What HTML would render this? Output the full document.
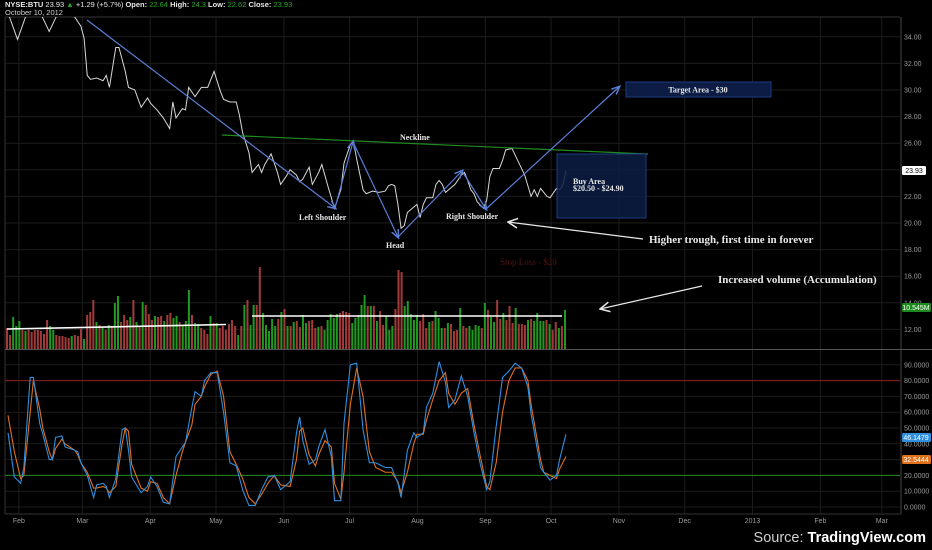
<!DOCTYPE html>
<html><head><meta charset="utf-8">
<style>
html,body{margin:0;padding:0;background:#000;}
body{width:932px;height:550px;overflow:hidden;position:relative;font-family:"Liberation Sans",sans-serif;}
svg{position:absolute;left:0;top:0;}
</style></head>
<body>
<svg id="c" width="932" height="550" viewBox="0 0 932 550"></svg>
<script>
// ---- data ----
const priceIdx = [0,3,6,10,13,16,21,23,24,25,26,28,30,31,32,34,35,37,38,40,42,44,45,47,49,51,52,53,55,56,57,59,61,63,65,67,68,70,72,73,74,76,77,79,80,81,83,85,86,88,89,91,92,93,95,96,98,99,101,103,105,106,108,109,110,112,113,115,117,119,120,121,122,123,124,125,126,127,129,130,131,132,134,135,136,137,138,139,141,143,144,145,146,147,148,150,151,152,153,155,156,157,159,160,162,163,165,166,167,168,170,171,173,174,175,176];
const priceVal = [35.8,33.8,35.8,35.9,34.4,35.9,35.5,34.8,33.9,31.1,30.8,30.9,30.7,31.1,30.2,33.2,33.2,31.4,30.2,30.0,28.7,29.4,29.0,28.5,27.9,27.1,29.1,27.9,28.6,28.5,30.2,29.5,30.2,30.2,31.4,29.9,29.3,29.1,29.1,28.1,26.8,25.3,23.8,24.4,23.8,24.4,25.2,23.8,22.9,23.6,24.0,23.6,23.1,23.3,24.2,22.9,23.8,24.4,22.7,21.1,22.5,24.5,25.9,26.1,24.8,22.5,22.2,22.4,22.3,22.4,22.8,22.9,22.8,21.4,19.6,19.8,20.8,21.0,21.4,20.4,21.4,21.9,21.9,22.9,23.2,22.9,22.3,22.5,22.9,23.6,23.8,23.2,22.5,22.2,21.6,21.1,21.7,23.5,24.1,24.1,24.7,25.5,25.6,25.1,24.1,23.6,22.0,22.5,22.0,22.6,22.0,21.9,22.6,22.5,22.8,23.9];
const volM = [5.25,3.5,8,5.75,7,4.75,4.5,4.75,4.25,4.75,4.75,4.5,3.75,7.25,5.75,4.75,3.5,3.25,3.25,3,2.75,3.25,3.5,3.25,5,2.5,8.5,9.25,12.25,6.75,6,5.25,4.75,6,5.75,11.5,13.25,6.75,8.5,7.25,8,12.25,6.75,5.75,11.75,11,8.75,7.25,8.25,8,8.25,7,8.5,9,7.75,8.25,6.75,5.75,7,14.75,8.5,6.5,6.25,5.25,4.75,3.75,8.25,6.5,6.5,5.25,5.75,4.75,6.25,7.25,5.75,3.5,5.75,11,12.25,6,11,11,20.5,9,6,4.5,7.5,5.75,7.5,9.25,10,5.75,
5.75,6.75,7,5.5,8.5,6.5,7,7.25,5.25,5.5,5.75,4.75,7.25,8.75,7.75,8.75,9,9.5,9.25,9,6.5,7.75,8.5,11,13.5,10.75,10.75,10.75,7,9.5,6,8.25,4.75,5.75,10,19.75,19.25,10.75,12,8.75,7.25,8.5,7,8.75,5.25,6.75,7,9.5,7.75,5.25,5.25,6.5,6.25,4.5,4.75,10.25,5.75,5.25,5.75,4.75,6,5.75,5.25,11.5,9.75,8,6.75,12.25,7.5,9,7.25,10.75,6.5,10.25,6.25,6.25,6,7.25,7.5,7,9,7,7,7.25,6.25,4.75,6.75,5.25,5.75,9.75];
const volDir = "drgggrgrrrrrrrggrrrrrgrrrgrrrgrgrgrggrrrgrgrgrrrgrrgrrggrgggrggrrrgrgrrrrrrgrgrggrrggg"+"ggrgrgrgrrggrrrgrgggggrrrrgggggrgrgrrgggrrrgggggrrrgrgggrgrrrgrrggggrgrggrrgrrrgrrrgrggggrgrrgrg";
const oscIdx = [0,2,4,5,7,8,10,11,13,14,15,17,18,21,22,23,25,27,28,30,31,32,34,36,37,38,39,42,44,45,47,49,51,53,55,56,58,59,61,62,64,66,68,70,72,74,76,78,80,82,84,86,89,91,92,93,95,97,98,100,102,103,105,106,108,110,112,114,116,119,121,123,124,126,128,129,131,132,134,136,138,139,141,143,145,147,149,151,152,154,156,158,160,162,164,165,168,169,171,173,174,176];
const kVal = [47,19,15,25,82,82,53,46,30,30,44,45,38,36,35,28,20,6,14,15,13,6,18,49,50,36,19,9,13,19,13,3,2,32,38,41,63,73,70,80,85,85,60,28,26,11,1,1,11,19,20,11,16,47,57,42,27,30,38,49,32,4,4,53,90,91,49,28,28,25,25,15,6,36,47,44,47,63,72,92,79,63,68,83,70,47,27,11,16,51,82,86,91,88,76,59,25,22,17,20,30,46];
const dVal = [58,35,18,20,60,80,62,50,35,30,37,43,40,36,33,28,22,12,12,13,12,9,13,40,50,48,27,12,10,16,15,6,2,20,35,41,52,65,70,76,84,86,70,35,27,18,6,2,8,15,20,14,13,30,48,50,33,26,33,42,38,15,5,22,65,88,70,35,25,22,22,16,9,22,40,46,46,55,68,80,85,72,65,72,75,52,32,13,11,28,60,80,88,88,80,65,30,22,20,18,24,32];
const priceTicks = [34,32,30,28,26,22,20,18,16,14,12];
const oscTicks = [90,80,70,60,50,40,30,20,10,0];
const monthLabels = ["Feb","Mar","Apr","May","Jun","Jul","Aug","Sep","Oct","Nov","Dec","2013","Feb","Mar"];
const monthDay = [31,60,91,121,152,182,213,244,274,305,335,366,397,425];

// ---- scales ----
const yP = p => 36.8 + (34 - p) * 13.3;
const xI = i => 8 + i * 3.17;
const vStep = 558 / (volM.length - 1);
const xV = i => 7 + i * vStep;
const yV = v => 349 - v * 4;
const yO = v => 507 - v * 1.58;
const xD = d => -49 + d * 2.19;

const svg = document.getElementById('c');
const NS = 'http://www.w3.org/2000/svg';
function mk(tag, attrs, parent){const e=document.createElementNS(NS,tag);for(const k in attrs)e.setAttribute(k,attrs[k]);(parent||svg).appendChild(e);return e;}

// grid
const grid = mk('g',{});


monthDay.forEach(d=>{const l=mk('line',{x1:xD(d),x2:xD(d),y1:17,y2:514,stroke:'#1c1c1c','stroke-width':1},grid);

});
priceTicks.forEach(p=>{const l=mk('line',{x1:5,x2:900,y1:yP(p),y2:yP(p),stroke:'#1c1c1c'},grid);

});
mk('line',{x1:5,x2:900,y1:yP(24),y2:yP(24),stroke:'#1c1c1c'},grid);
oscTicks.forEach(v=>{const l=mk('line',{x1:5,x2:900,y1:yO(v),y2:yO(v),stroke:'#1c1c1c'},grid);

});
// borders
mk('line',{x1:5,x2:900,y1:17,y2:17,stroke:'#333'});
mk('line',{x1:5,x2:5,y1:17,y2:514,stroke:'#333'});
mk('line',{x1:901,x2:901,y1:17,y2:514,stroke:'#444'});
mk('line',{x1:5,x2:932,y1:349.5,y2:349.5,stroke:'#555'});
mk('line',{x1:5,x2:901,y1:514,y2:514,stroke:'#333'});

// volume bars
const vg = mk('g',{});


volM.forEach((v,i)=>{const b=mk('rect',{x:xV(i)-1,y:yV(v),width:2,height:349-yV(v),fill:volDir[i]==='g'?'#1f9a1f':'#a33a3a'},vg);

});

// price line
const clip = mk('clipPath',{id:'pc'}); mk('rect',{x:5,y:17,width:896,height:332},clip);
const pl = mk('polyline',{points:priceIdx.map((d,i)=>xI(d)+','+yP(priceVal[i])).join(' '),fill:'none',stroke:'#d8d8d8','stroke-width':1,'clip-path':'url(#pc)'});



// osc reference lines
const r80=mk('line',{x1:5,x2:900,y1:yO(80),y2:yO(80),stroke:'#8a1c1c'});


const r20=mk('line',{x1:5,x2:900,y1:yO(20),y2:yO(20),stroke:'#1d8a1d'});


const dl = mk('polyline',{points:oscIdx.map((d,i)=>xI(d)+','+yO(dVal[i])).join(' '),fill:'none',stroke:'#e0701c','stroke-width':1.1});


const kl = mk('polyline',{points:oscIdx.map((d,i)=>xI(d)+','+yO(kVal[i])).join(' '),fill:'none',stroke:'#2f8fe0','stroke-width':1.1});



// axis labels
priceTicks.forEach(p=>{const t=mk('text',{x:904,y:yP(p)+2.5,fill:'#9a9a9a','font-size':7});t.textContent=p.toFixed(2);

});
oscTicks.forEach(v=>{const t=mk('text',{x:904,y:yO(v)+2.5,fill:'#9a9a9a','font-size':7});t.textContent=v.toFixed(4);

});
monthLabels.forEach((m,i)=>{const t=mk('text',{x:xD(monthDay[i]),y:523,fill:'#9a9a9a','font-size':7,'text-anchor':'middle'});t.textContent=m;

});
</script>

<svg width="932" height="550" viewBox="0 0 932 550" style="pointer-events:none">
  <defs>
    <marker id="ab" markerWidth="8" markerHeight="8" refX="6" refY="4" orient="auto"><path d="M0,1 L7,4 L0,7" fill="none" stroke="#5b7fd6" stroke-width="1.2"/></marker>
    <marker id="aw" markerWidth="10" markerHeight="10" refX="1" refY="5" orient="auto"><path d="M9,1 L1,5 L9,9" fill="none" stroke="#e8e8e8" stroke-width="1.3"/></marker>
  </defs>
  <line x1="7" y1="329" x2="226" y2="324.5" stroke="#fff" stroke-width="1.6"/>
  <line x1="252" y1="316" x2="562" y2="316" stroke="#fff" stroke-width="1.6"/>
  <line x1="222" y1="135" x2="648" y2="154" stroke="#1f8a1f" stroke-width="1.2"/>
  <polyline points="87,20 335,208" fill="none" stroke="#5b7fd6" stroke-width="1.2" marker-end="url(#ab)"/>
  <polyline points="335,208 353,142" fill="none" stroke="#5b7fd6" stroke-width="1.2" marker-end="url(#ab)"/>
  <polyline points="353,142 398,237" fill="none" stroke="#5b7fd6" stroke-width="1.2" marker-end="url(#ab)"/>
  <polyline points="398,237 462,171" fill="none" stroke="#5b7fd6" stroke-width="1.2" marker-end="url(#ab)"/>
  <polyline points="462,171 486,209" fill="none" stroke="#5b7fd6" stroke-width="1.2" marker-end="url(#ab)"/>
  <polyline points="486,209 619,87" fill="none" stroke="#5b7fd6" stroke-width="1.2" marker-end="url(#ab)"/>
  <rect x="557" y="154" width="89" height="64" fill="#0c1c44" fill-opacity="0.85" stroke="#1d3c80"/>
  <rect x="626" y="82" width="145" height="15" fill="#0c1c44" stroke="#1d3c80"/>
  <g font-family="Liberation Serif, serif" font-weight="bold" fill="#e8e8e8">
    <text x="698" y="92.5" font-size="8" text-anchor="middle">Target Area - $30</text>
    <text x="573" y="184" font-size="8">Buy Area</text>
    <text x="573" y="191" font-size="8">$20.50 - $24.90</text>
    <text x="400" y="140" font-size="8">Neckline</text>
    <text x="299" y="220" font-size="8">Left Shoulder</text>
    <text x="386" y="248" font-size="8">Head</text>
    <text x="446" y="219" font-size="8">Right Shoulder</text>
    <text x="649" y="243" font-size="11">Higher trough, first time in forever</text>
    <text x="718" y="283" font-size="11">Increased volume (Accumulation)</text>
  </g>
  <text x="500" y="265" font-family="Liberation Serif, serif" font-size="9" fill="#5a1212">Stop Loss - $20</text>
  <line x1="508" y1="222" x2="643" y2="239" stroke="#e8e8e8" stroke-width="1.2" marker-start="url(#aw)"/>
  <line x1="600" y1="309" x2="702" y2="286" stroke="#e8e8e8" stroke-width="1.2" marker-start="url(#aw)"/>
  <rect x="902" y="166" width="24" height="9" rx="1.5" fill="#fff"/>
  <text x="914" y="173" font-size="7" fill="#000" text-anchor="middle">23.93</text>
  <rect x="902" y="303" width="29" height="9" rx="1.5" fill="#1c8a1c"/>
  <text x="916" y="310" font-size="7" fill="#fff" text-anchor="middle">10.545M</text>
  <rect x="902" y="433" width="29" height="9" rx="1.5" fill="#2f8fe0"/>
  <text x="916" y="440" font-size="7" fill="#fff" text-anchor="middle">46.1479</text>
  <rect x="902" y="455" width="29" height="9" rx="1.5" fill="#e0701c"/>
  <text x="916" y="462" font-size="7" fill="#fff" text-anchor="middle">32.5444</text>
  <text x="5" y="7" font-size="7.5" font-weight="bold" fill="#e8e8e8">NYSE:BTU <tspan font-weight="normal">23.93</tspan> <tspan fill="#2aa52a">▲</tspan> <tspan font-weight="normal">+1.29 (+5.7%)</tspan>  Open: <tspan fill="#2aa52a" font-weight="normal">22.64</tspan>  High: <tspan fill="#2aa52a" font-weight="normal">24.3</tspan>  Low: <tspan fill="#2aa52a" font-weight="normal">22.62</tspan>  Close: <tspan fill="#2aa52a" font-weight="normal">23.93</tspan></text>
  <text x="5" y="15" font-size="7.5" fill="#cfcfcf">October 10, 2012</text>
  <text x="926" y="542" font-size="14.5" text-anchor="end" fill="#d0d0d0">Source: <tspan fill="#fff" font-weight="bold">TradingView.com</tspan></text>
</svg>
</body></html>
